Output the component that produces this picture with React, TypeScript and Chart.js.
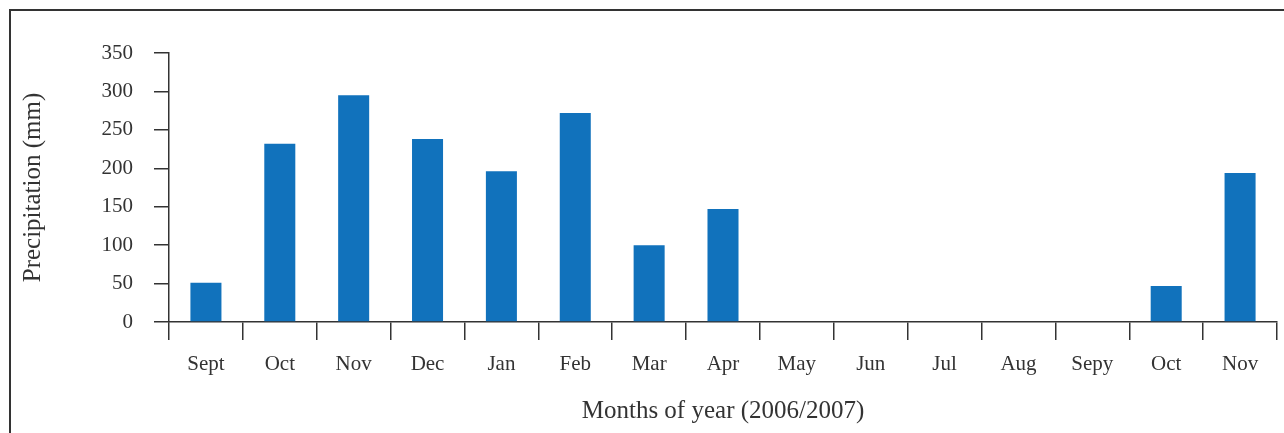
import React, { useEffect, useRef } from "react";
import { Chart, registerables } from "chart.js";

Chart.register(...registerables);

const categories = ["Sept", "Oct", "Nov", "Dec", "Jan", "Feb", "Mar", "Apr", "May", "Jun", "Jul", "Aug", "Sepy", "Oct", "Nov"];
const precipitation = [51, 232, 295, 238, 196, 272, 100, 147, 0, 0, 0, 0, 0, 47, 194];
const yTitle = "Precipitation (mm)";
const xTitle = "Months of year (2006/2007)";

const FONT = "'Liberation Serif', 'Times New Roman', serif";
const INK = "#333333";

export default function App() {
  const ref = useRef<HTMLCanvasElement | null>(null);

  useEffect(() => {
    if (!ref.current) return;
    const chart = new Chart(ref.current, {
      type: "bar",
      data: {
        labels: categories,
        datasets: [
          {
            data: precipitation,
            backgroundColor: "#1172BC",
            borderWidth: 0,
            barPercentage: 0.42,
            categoryPercentage: 1,
          },
        ],
      },
      options: {
        responsive: false,
        animation: false,
        layout: { padding: { left: 0, right: 7, top: 53, bottom: 0 } },
        plugins: { legend: { display: false }, tooltip: { enabled: false } },
        scales: {
          x: {
            grid: {
              offset: true,
              drawOnChartArea: false,
              drawTicks: true,
              tickLength: 18,
              color: INK,
              lineWidth: 1.5,
            },
            border: { color: INK, width: 1.5 },
            ticks: {
              font: { family: FONT, size: 21 },
              color: INK,
              padding: 12,
              maxRotation: 0,
              autoSkip: false,
            },
            title: {
              display: true,
              text: xTitle,
              font: { family: FONT, size: 25 },
              color: INK,
              padding: { top: 0, bottom: 7 },
            },
            afterFit: (s: any) => {
              s.height = 111;
            },
          },
          y: {
            min: 0,
            max: 350,
            ticks: {
              stepSize: 50,
              font: { family: FONT, size: 21 },
              color: INK,
              padding: 21,
            },
            grid: {
              drawOnChartArea: false,
              drawTicks: true,
              tickLength: 15,
              color: INK,
              lineWidth: 1.5,
            },
            border: { color: INK, width: 1.5 },
            title: {
              display: true,
              text: yTitle,
              font: { family: FONT, size: 25 },
              color: INK,
              padding: { top: 18, bottom: 0 },
            },
            afterFit: (s: any) => {
              s.width = 169;
            },
          },
        },
      },
    });
    return () => chart.destroy();
  }, []);

  return (
    <div
      style={{
        position: "fixed",
        left: 0,
        top: 0,
        width: 1284,
        height: 433,
        overflow: "hidden",
        background: "#fff",
      }}
    >
      <div
        style={{
          position: "absolute",
          left: 9,
          top: 9,
          width: 1400,
          height: 600,
          borderTop: "2px solid #333",
          borderLeft: "2px solid #333",
        }}
      />
      <canvas
        ref={ref}
        width={1284}
        height={433}
        style={{ position: "absolute", left: 0, top: 0, width: 1284, height: 433 }}
      />
    </div>
  );
}
